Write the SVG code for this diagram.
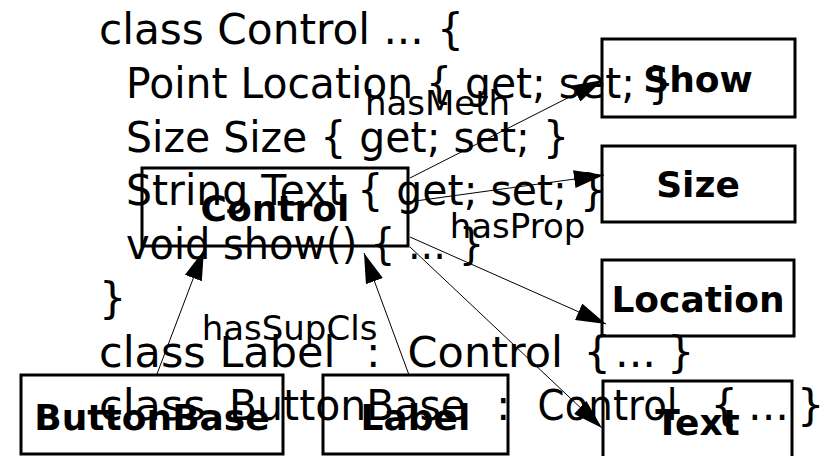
<svg xmlns="http://www.w3.org/2000/svg" width="831" height="456" viewBox="0 0 831 456">
  <style>
    .code { font-family: "DejaVu Sans", sans-serif; font-size: 43px; fill: #000; }
    .node rect { fill: none; stroke: #000; stroke-width: 3; }
    .node text { font-family: "DejaVu Sans", sans-serif; font-weight: bold; font-size: 36px; text-anchor: middle; fill: #000; }
    .edge { stroke: #000; stroke-width: 1; fill: none; marker-end: url(#arrow); }
    .elabel { font-family: "DejaVu Sans", sans-serif; font-size: 34px; text-anchor: middle; fill: #000; }
  </style>
  <defs>
    <marker id="arrow" markerUnits="userSpaceOnUse" markerWidth="30" markerHeight="18" refX="30" refY="9" orient="auto">
      <path d="M0,0 L30,9 L0,18 z" fill="#000"/>
    </marker>
  </defs>
  <rect width="831" height="456" fill="#fff"/>

  <!-- source listing drawn behind the graph -->
  <g id="listing" class="code">
    <text x="99" y="44.3" textLength="365" lengthAdjust="spacingAndGlyphs">class Control ... {</text>
    <text x="126" y="98" textLength="548" lengthAdjust="spacingAndGlyphs">Point Location { get; set; }</text>
    <text x="126" y="151.7" textLength="443" lengthAdjust="spacingAndGlyphs">Size Size { get; set; }</text>
    <text x="126" y="205.4" textLength="480" lengthAdjust="spacingAndGlyphs">String Text { get; set; }</text>
    <text x="126" y="259.1" textLength="358" lengthAdjust="spacingAndGlyphs">void show() { ... }</text>
    <text x="99" y="312.8">}</text>
    <text y="366.5"><tspan x="99">class Label</tspan><tspan x="366">:</tspan><tspan x="407.6">Control</tspan><tspan x="583.5">{</tspan><tspan x="615">...</tspan><tspan x="667">}</tspan></text>
    <text x="99" y="420.2">class</text>
    <text x="229" y="420.2" textLength="237" lengthAdjust="spacingAndGlyphs">ButtonBase</text>
    <text x="496" y="420.2">:</text>
    <text x="537.6" y="420.2" textLength="140" lengthAdjust="spacingAndGlyphs">Control</text>
    <text y="420.2"><tspan x="710.5">{</tspan><tspan x="748">...</tspan><tspan x="797">}</tspan></text>
  </g>

  <g id="edges">
    <line class="edge" x1="410" y1="178" x2="603" y2="80"/>
    <line class="edge" x1="408" y1="202" x2="604" y2="175"/>
    <line class="edge" x1="410" y1="237" x2="606" y2="324"/>
    <line class="edge" x1="410" y1="247" x2="602" y2="428"/>
    <line class="edge" x1="157" y1="374" x2="204" y2="250"/>
    <line class="edge" x1="409" y1="375" x2="364" y2="253"/>
    <text class="elabel" x="437.5" y="115">hasMeth</text>
    <text class="elabel" x="517.5" y="238">hasProp</text>
    <text class="elabel" x="289.5" y="340">hasSupCls</text>
  </g>

  <g id="node-control" class="node">
    <rect x="142" y="168" width="266" height="78"/>
    <text x="275" y="221">Control</text>
  </g>
  <g id="node-show" class="node">
    <rect x="602" y="39" width="193" height="78"/>
    <text x="698" y="92">Show</text>
  </g>
  <g id="node-size" class="node">
    <rect x="602" y="146" width="193" height="76"/>
    <text x="698" y="197">Size</text>
  </g>
  <g id="node-location" class="node">
    <rect x="602" y="260" width="192" height="76"/>
    <text x="698" y="312">Location</text>
  </g>
  <g id="node-text" class="node">
    <rect x="603" y="381" width="189" height="78"/>
    <text x="697.5" y="435">Text</text>
  </g>
  <g id="node-buttonbase" class="node">
    <rect x="21" y="375" width="262" height="79"/>
    <text x="152" y="430">ButtonBase</text>
  </g>
  <g id="node-label" class="node">
    <rect x="323" y="375" width="185" height="79"/>
    <text x="415.5" y="430">Label</text>
  </g>
</svg>
